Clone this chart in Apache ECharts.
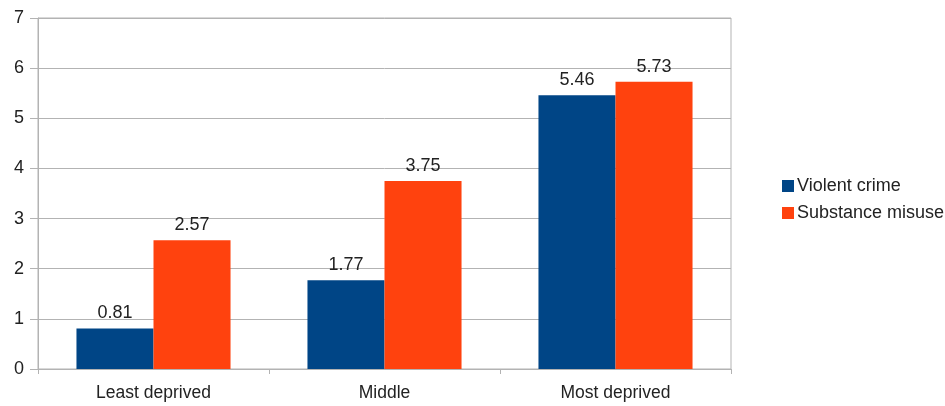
<!DOCTYPE html>
<html>
<head>
<meta charset="utf-8">
<script src="https://cdn.jsdelivr.net/npm/echarts@6/dist/echarts.min.js"></script>
<style>
  html, body { margin: 0; padding: 0; background: #fff; }
  #chart { width: 945px; height: 406px; }
</style>
</head>
<body>
<div id="chart"></div>
<script>
// Deprivation groups and rates per group
const categories = ['Least deprived', 'Middle', 'Most deprived'];
const violentCrime = [0.81, 1.77, 5.46];
const substanceMisuse = [2.57, 3.75, 5.73];
const seriesNames = ['Violent crime', 'Substance misuse'];

const font = 'Liberation Sans, Arial, sans-serif';
const gridColor = '#b3b3b3';
const textColor = '#222';

const chart = echarts.init(document.getElementById('chart'));
chart.setOption({
  animation: false,
  textStyle: { fontFamily: font },
  grid: {
    left: 38, right: 214, top: 18, bottom: 37,
    show: true, borderColor: gridColor, borderWidth: 1
  },
  legend: {
    orient: 'vertical',
    left: 777, top: 172,
    itemWidth: 12, itemHeight: 12, itemGap: 9,
    icon: 'rect',
    textStyle: { fontSize: 18, color: textColor, fontFamily: font, padding: [0, 0, 0, -2] },
    data: seriesNames
  },
  xAxis: {
    type: 'category',
    data: categories,
    axisLine: { lineStyle: { color: gridColor } },
    axisTick: { show: true, length: 5, lineStyle: { color: gridColor } },
    axisLabel: { fontSize: 17.5, color: textColor, margin: 15, fontFamily: font }
  },
  yAxis: {
    type: 'value',
    min: 0, max: 7, interval: 1,
    axisLine: { show: true, lineStyle: { color: gridColor } },
    axisTick: { show: true, length: 8, lineStyle: { color: gridColor } },
    axisLabel: { fontSize: 18, color: textColor, margin: 14, fontFamily: font },
    splitLine: { lineStyle: { color: gridColor } }
  },
  series: [
    {
      name: seriesNames[0], type: 'bar', data: violentCrime,
      itemStyle: { color: '#004586' },
      barGap: '0%', barCategoryGap: '33.3%',
      label: { show: true, position: 'top', distance: 6, fontSize: 18, color: textColor, fontFamily: font }
    },
    {
      name: seriesNames[1], type: 'bar', data: substanceMisuse,
      itemStyle: { color: '#ff420e' },
      barGap: '0%', barCategoryGap: '33.3%',
      label: { show: true, position: 'top', distance: 6, fontSize: 18, color: textColor, fontFamily: font }
    }
  ]
});
</script>
</body>
</html>
